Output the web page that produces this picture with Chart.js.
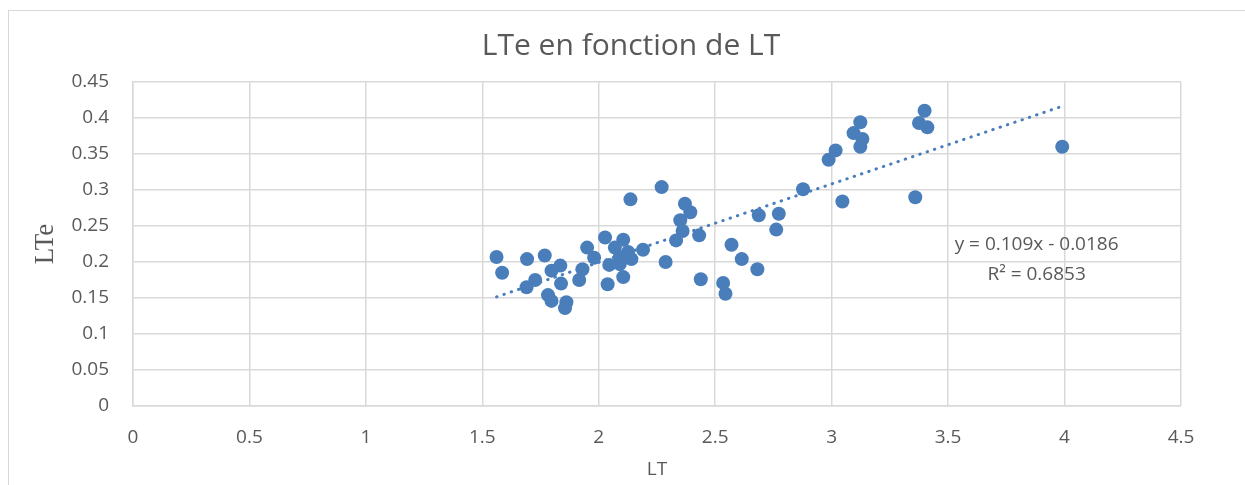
<!DOCTYPE html>
<html>
<head>
<meta charset="utf-8">
<script src="https://cdn.jsdelivr.net/npm/chart.js@4"></script>
<style>
  html, body { margin: 0; padding: 0; background: #ffffff; overflow: hidden; }
  #frame { position: absolute; left: 8px; top: 10px; width: 1300px; height: 600px; border: 1px solid #d9d9d9; box-sizing: border-box; }
  #c { position: absolute; left: 0; top: 0; }
</style>
</head>
<body>
<div id="frame"></div>
<canvas id="c" width="1245" height="485"></canvas>
<script>
// ---- data ----
const chartTitle = 'LTe en fonction de LT';
const xAxisTitle = 'LT';
const yAxisTitle = 'LTe';

const ltValues = [
  1.561, 1.585, 1.692, 1.690, 1.727, 1.768, 1.797, 1.835, 1.838, 1.782,
  1.797, 1.861, 1.855, 1.950, 1.980, 1.930, 1.916, 2.027, 2.105, 2.069,
  2.090, 2.140, 2.126, 2.045, 2.090, 2.190, 2.038, 2.105, 2.136, 2.270,
  2.287, 2.370, 2.393, 2.350, 2.360, 2.332, 2.431, 2.438, 2.534, 2.544,
  2.570, 2.614, 2.681, 2.687, 2.762, 2.773, 2.877, 2.987, 3.017, 3.046,
  3.094, 3.123, 3.132, 3.123, 3.359, 3.375, 3.399, 3.411, 3.990
];
const lteValues = [
  0.207, 0.185, 0.204, 0.165, 0.175, 0.209, 0.188, 0.195, 0.170, 0.154,
  0.146, 0.144, 0.136, 0.220, 0.206, 0.190, 0.175, 0.234, 0.231, 0.220,
  0.207, 0.204, 0.214, 0.196, 0.197, 0.217, 0.169, 0.179, 0.287, 0.304,
  0.200, 0.281, 0.269, 0.258, 0.243, 0.230, 0.237, 0.176, 0.171, 0.156,
  0.224, 0.204, 0.190, 0.265, 0.245, 0.267, 0.301, 0.342, 0.355, 0.284,
  0.379, 0.394, 0.371, 0.360, 0.290, 0.393, 0.410, 0.387, 0.360
];

// linear trendline endpoints (y = 0.109x - 0.0186 as shown in the chart)
const trendX = [1.561, 3.990];
const trendY = [0.1516, 0.4163];
const trendLabel = 'y = 0.109x - 0.0186';
const r2Label = 'R\u00B2 = 0.6853';
const labelAnchor = { x: 3.88, y1: 0.224, y2: 0.182 };

const xTicks = [0, 0.5, 1, 1.5, 2, 2.5, 3, 3.5, 4, 4.5];
const yTicks = [0, 0.05, 0.1, 0.15, 0.2, 0.25, 0.3, 0.35, 0.4, 0.45];

// ---- build chart ----
const pointData = ltValues.map((x, i) => ({ x: x, y: lteValues[i] }));
const trendData = trendX.map((x, i) => ({ x: x, y: trendY[i] }));

const BLUE = '#4a7ebb';
const TEXT = '#595959';
const GRID = '#d9d9d9';

const overlay = {
  id: 'overlay',
  afterDraw(chart) {
    const ctx = chart.ctx;
    ctx.save();
    ctx.fillStyle = TEXT;
    ctx.textAlign = 'center';
    ctx.textBaseline = 'middle';
    ctx.font = '30px "Open Sans"';
    ctx.fillText(chartTitle, 631, 46);
    const xs = chart.scales.x, ys = chart.scales.y;
    ctx.font = '19px "Open Sans"';
    ctx.fillText(trendLabel, xs.getPixelForValue(labelAnchor.x), ys.getPixelForValue(labelAnchor.y1));
    ctx.fillText(r2Label, xs.getPixelForValue(labelAnchor.x), ys.getPixelForValue(labelAnchor.y2));
    ctx.restore();
  }
};

new Chart(document.getElementById('c'), {
  type: 'scatter',
  data: {
    datasets: [
      {
        label: 'LTe',
        data: pointData,
        backgroundColor: BLUE,
        borderWidth: 0,
        pointRadius: 7,
        pointHoverRadius: 7,
        order: 1
      },
      {
        type: 'line',
        label: 'Linéaire',
        data: trendData,
        showLine: true,
        borderColor: BLUE,
        borderWidth: 3,
        borderDash: [0.5, 7.2],
        borderCapStyle: 'round',
        pointRadius: 0,
        fill: false,
        order: 0
      }
    ]
  },
  options: {
    responsive: false,
    animation: false,
    events: [],
    layout: { padding: { top: 82, right: 64, left: 0, bottom: 0 } },
    plugins: {
      legend: { display: false },
      title: { display: false },
      tooltip: { enabled: false }
    },
    scales: {
      x: {
        type: 'linear',
        min: 0, max: 4.5,
        afterBuildTicks: s => { s.ticks = xTicks.map(v => ({ value: v })); },
        afterFit: s => { s.height = 79; },
        grid: { color: GRID, lineWidth: 1.5, drawTicks: false },
        border: { color: GRID, width: 1.5 },
        ticks: {
          color: TEXT, padding: 20,
          font: { family: 'Open Sans', size: 19 },
          callback: v => String(Number(v.toFixed(2)))
        },
        title: {
          display: true, text: xAxisTitle, color: TEXT,
          font: { family: 'Open Sans', size: 19 },
          padding: { top: 0, bottom: 4 }
        }
      },
      y: {
        type: 'linear',
        min: 0, max: 0.45,
        afterBuildTicks: s => { s.ticks = yTicks.map(v => ({ value: v })); },
        afterFit: s => { s.width = 133; },
        grid: { color: GRID, lineWidth: 1.5, drawTicks: false },
        border: { color: GRID, width: 1.5 },
        ticks: {
          color: TEXT, padding: 24,
          font: { family: 'Open Sans', size: 19 },
          callback: v => String(Number(v.toFixed(2)))
        },
        title: {
          display: true, text: yAxisTitle, color: TEXT,
          font: { family: 'Liberation Serif', size: 27 },
          padding: { top: 30, bottom: 0 }
        }
      }
    }
  },
  plugins: [overlay]
});
</script>
</body>
</html>
